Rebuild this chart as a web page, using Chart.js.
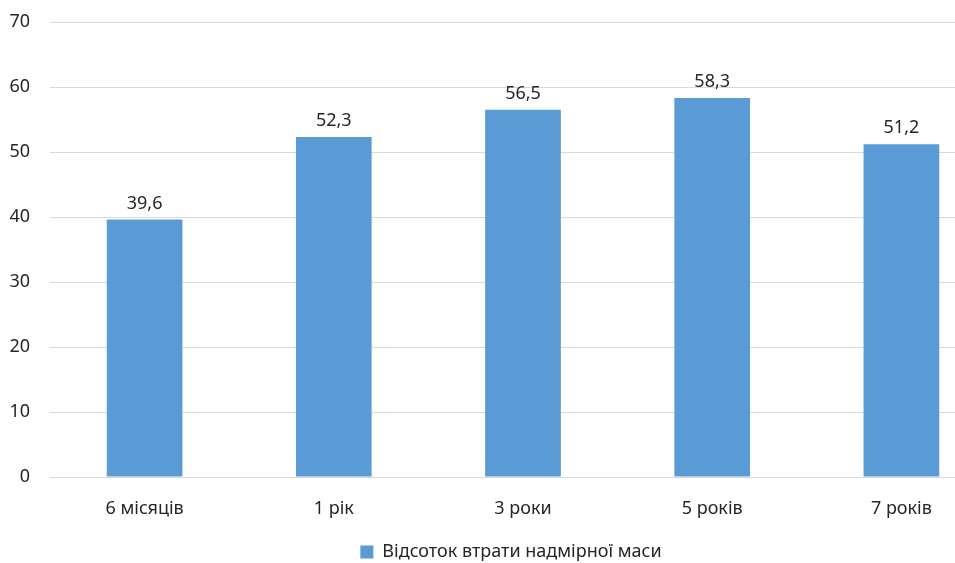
<!DOCTYPE html>
<html>
<head>
<meta charset="utf-8">
<title>Відсоток втрати надмірної маси</title>
<script src="https://cdn.jsdelivr.net/npm/chart.js@4.4.0/dist/chart.umd.min.js"></script>
<style>
  html, body { margin: 0; padding: 0; background: #fff; overflow: hidden; }
  #wrap { width: 1022px; height: 571px; }
</style>
</head>
<body>
<div id="wrap"><canvas id="chart" width="1022" height="571"></canvas></div>
<script>
// --- data ---
const categories = ['6 місяців', '1 рік', '3 роки', '5 років', '7 років'];
const lossPercent = [39.6, 52.3, 56.5, 58.3, 51.2];
const yTicks = [0, 10, 20, 30, 40, 50, 60, 70];
const seriesName = 'Відсоток втрати надмірної маси';

const FONT = '"Noto Sans", "Open Sans", sans-serif';
const TEXT = '#262626';

// value labels above bars, comma as decimal separator
const barLabels = {
  id: 'barLabels',
  afterDatasetsDraw(chart) {
    const ctx = chart.ctx;
    const meta = chart.getDatasetMeta(0);
    ctx.save();
    ctx.font = '18px ' + FONT;
    ctx.fillStyle = TEXT;
    ctx.textAlign = 'center';
    ctx.textBaseline = 'middle';
    meta.data.forEach(function(bar, i) {
      const txt = lossPercent[i].toFixed(1).replace('.', ',');
      ctx.fillText(txt, bar.x, bar.y - 16);
    });
    ctx.restore();
  }
};

document.addEventListener('DOMContentLoaded', function() {
  const ctx = document.getElementById('chart').getContext('2d');
  new Chart(ctx, {
    type: 'bar',
    data: {
      labels: categories,
      datasets: [{
        label: seriesName,
        data: lossPercent,
        backgroundColor: '#5B9BD5',
        borderWidth: 0,
        categoryPercentage: 1,
        barPercentage: 0.4
      }]
    },
    options: {
      responsive: false,
      animation: false,
      layout: {padding: {left: 0, right: 0, top: 22, bottom: 0}},
      plugins: {
        legend: {
          position: 'bottom',
          labels: {
            font: {family: FONT, size: 18},
            color: TEXT,
            boxWidth: 13,
            boxHeight: 13,
            padding: 12
          }
        },
        tooltip: {enabled: false}
      },
      scales: {
        x: {
          afterFit(scale) { scale.height = 54; },
          grid: {display: false},
          border: {display: false},
          ticks: {font: {family: FONT, size: 18}, color: TEXT, padding: 13, maxRotation: 0}
        },
        y: {
          min: 0,
          max: 70,
          afterBuildTicks(scale) { scale.ticks = yTicks.map(v => ({value: v})); },
          afterFit(scale) {
            scale.width = 50;
            scale.paddingTop = 11;
            scale.paddingBottom = 11;
          },
          grid: {color: '#d9d9d9', lineWidth: 1, drawTicks: false},
          border: {display: false},
          ticks: {font: {family: FONT, size: 18}, color: TEXT, padding: 20}
        },
        // empty right-hand spacer so the plot runs off the right edge like the original
        spacer: {
          type: 'linear',
          position: 'right',
          afterFit(scale) { scale.width = 26; },
          grid: {display: false},
          border: {display: false},
          ticks: {display: false}
        }
      }
    },
    plugins: [barLabels]
  });
});
</script>
</body>
</html>
